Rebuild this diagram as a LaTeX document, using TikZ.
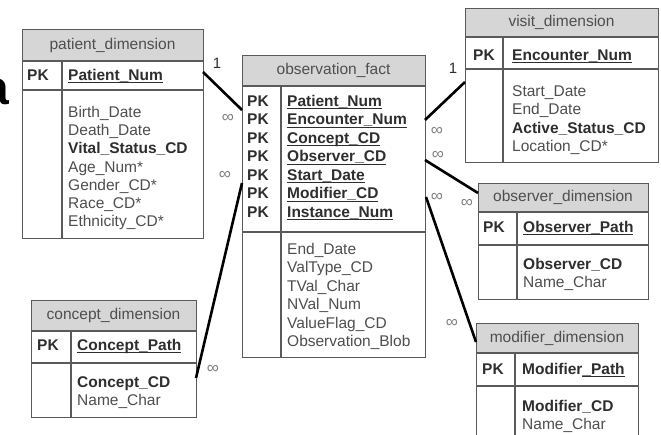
\documentclass[tikz,border=0pt]{standalone}
\usepackage{fontspec}
\setmainfont{Liberation Sans}
\definecolor{boxc}{HTML}{5A5A5A}
\definecolor{hdrc}{HTML}{D6D6D6}
\definecolor{txtc}{HTML}{4E4E4E}
\definecolor{boldc}{HTML}{2E2E2E}
\definecolor{infc}{HTML}{808080}
\newcommand\pkul[1]{\setbox0\hbox{#1}\rlap{\rule[-2.8pt]{\wd0}{1.1pt}}\box0}
\newcommand\ertab[9]{%
  \fill[hdrc] (#2,#3) rectangle (#4,#5);
  \node[tabbox, minimum width={#4pt-#2pt}, minimum height={#7pt-#3pt}, anchor=north west] (#1) at (#2,#3) {};
  \draw[tabline] (#2,#5) -- (#4,#5) (#2,#6) -- (#4,#6) (#8,#5) -- (#8,#7);
  \node[hdrtext] (#1-title) at ({(#2+#4)/2},{(#3+#5)/2}) {#9};
}
\newcommand\fieldrows[5]{% #1 name prefix, #2 x, #3 first centre y, #4 step, #5 list
  \foreach \t [count=\i from 0] in {#5}
    \node[fieldtext] (#1-\i) at (#2,{#3+5.5+\i*#4}) {\t};
}
\begin{document}
\begin{tikzpicture}[x=1pt,y=-1pt,
  tabbox/.style={draw=boxc, line width=1.3pt, inner sep=0pt, fill=none},
  tabline/.style={draw=boxc, line width=1.3pt},
  hdrtext/.style={inner sep=0pt, text=txtc, font=\fontsize{15.5}{18}\selectfont},
  fieldtext/.style={anchor=base west, inner sep=0pt, text=txtc, font=\fontsize{15.5}{18}\selectfont},
  pktext/.style={anchor=base west, inner sep=0pt, text=boldc, font=\bfseries\fontsize{15.5}{18}\selectfont},
  conn/.style={draw=black, line width=2.6pt},
  inf/.style={inner sep=0pt, text=infc, font=\fontsize{17}{17}\selectfont},
  one/.style={inner sep=0pt, text=boldc, font=\fontsize{15}{15}\selectfont}
]
\useasboundingbox (0,0) rectangle (661,435);
\clip (0,0) rectangle (661,435);
\fill[white] (0,0) rectangle (661,435);

% fragment of a large letter at the left edge
\node[anchor=base east, inner sep=0pt, text=black, font=\bfseries\fontsize{48}{48}\selectfont] (frag) at (9,105) {a};

% ---------- patient_dimension
\ertab{pat}{22}{29}{203}{61}{90}{238}{62}{patient\_dimension}
\node[pktext] (pat-pk) at (27,80.5) {PK};
\node[pktext] (pat-key) at (68,80.5) {\pkul{Patient\_Num}};
\fieldrows{pat}{68}{112}{18.2}{Birth\_Date,Death\_Date,\textbf{\color{boldc}Vital\_Status\_CD},Age\_Num*,Gender\_CD*,Race\_CD*,Ethnicity\_CD*}

% ---------- observation_fact
\ertab{obs}{242}{55}{425}{86}{232}{357}{281}{observation\_fact}
\foreach \k/\n [count=\i from 0] in {Patient\_Num,Encounter\_Num,Concept\_CD,Observer\_CD,Start\_Date,Modifier\_CD,Instance\_Num}{
  \node[pktext] (obs-pk\i) at (247,{101+5.5+\i*18.5}) {PK};
  \node[pktext] (obs-key\i) at (287,{101+5.5+\i*18.5}) {\pkul{\k}};
}
\fieldrows{obs}{287}{249}{18.4}{End\_Date,ValType\_CD,TVal\_Char,NVal\_Num,ValueFlag\_CD,Observation\_Blob}

% ---------- visit_dimension
\ertab{vis}{465}{8}{658}{37}{69}{162}{503}{visit\_dimension}
\node[pktext] (vis-pk) at (473,60.5) {PK};
\node[pktext] (vis-key) at (512,60.5) {\pkul{Encounter\_Num}};
\fieldrows{vis}{512}{91}{18.3}{Start\_Date,End\_Date,\textbf{\color{boldc}Active\_Status\_CD},Location\_CD*}

% ---------- observer_dimension
\ertab{obv}{478}{183}{648}{212}{245}{299}{517}{observer\_dimension}
\node[pktext] (obv-pk) at (483,232.5) {PK};
\node[pktext] (obv-key) at (523,232.5) {\pkul{Observer\_Path}};
\fieldrows{obv}{523}{264}{18.5}{\textbf{\color{boldc}Observer\_CD},Name\_Char}

% ---------- modifier_dimension
\ertab{mod}{476}{323}{638}{353}{386}{450}{515}{modifier\_dimension}
\node[pktext] (mod-pk) at (482,374.5) {PK};
\node[pktext] (mod-key) at (522,374.5) {Modifier\pkul{\_Path}};
\fieldrows{mod}{522}{406}{18.3}{\textbf{\color{boldc}Modifier\_CD},Name\_Char}

% ---------- concept_dimension
\ertab{con}{31}{300}{196}{331}{363}{417}{71}{concept\_dimension}
\node[pktext] (con-pk) at (37,350.5) {PK};
\node[pktext] (con-key) at (77,350.5) {\pkul{Concept\_Path}};
\fieldrows{con}{77}{382}{17.5}{\textbf{\color{boldc}Concept\_CD},Name\_Char}

% ---------- connector end points
\coordinate (patE) at (203,72);
\coordinate (obsW1) at (242,110);
\coordinate (conE) at (196,378);
\coordinate (obsW2) at (242,183);
\coordinate (obsE1) at (425,120);
\coordinate (visW) at (465,82);
\coordinate (obsE2) at (425,160);
\coordinate (obvW) at (478,193);
\coordinate (obsE3) at (426,197);
\coordinate (modW) at (476,342);

\draw[conn] (patE) -- (obsW1);
\draw[conn] (conE) -- (obsW2);
\draw[conn] (obsE1) -- (visW);
\draw[conn] (obsE2) -- (obvW);
\draw[conn] (obsE3) -- (modW);

% ---------- cardinality labels
\node[one] (l1) at (217,63) {1};
\node[one] (l2) at (453,68) {1};
\node[inf] (i1) at (228,118) {∞};
\node[inf] (i2) at (225,175) {∞};
\node[inf] (i3) at (213,369) {∞};
\node[inf] (i4) at (437,131) {∞};
\node[inf] (i5) at (438,155) {∞};
\node[inf] (i6) at (437,197) {∞};
\node[inf] (i7) at (467,203) {∞};
\node[inf] (i8) at (452,323) {∞};
\end{tikzpicture}
\end{document}
